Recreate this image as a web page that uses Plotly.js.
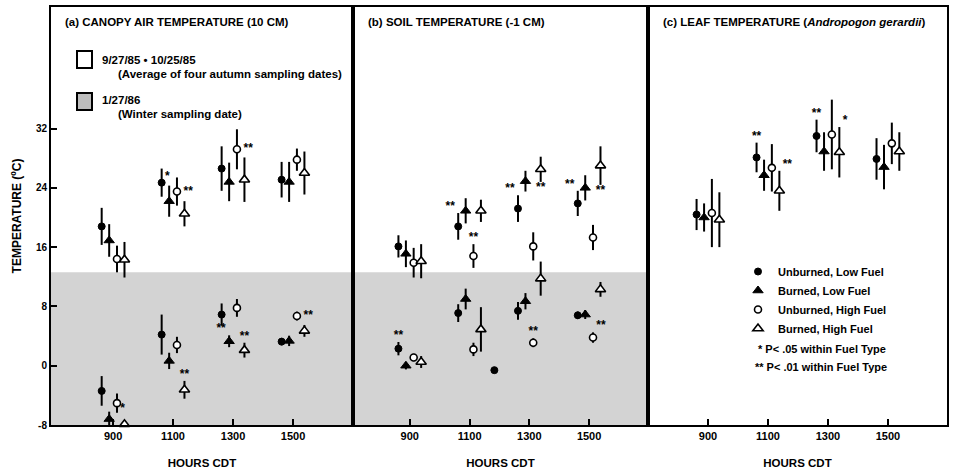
<!DOCTYPE html>
<html>
<head>
<meta charset="utf-8">
<script src="https://cdn.plot.ly/plotly-3.0.1.min.js"></script>
<style>html,body{margin:0;padding:0;background:#fff;}#chart{width:953px;height:470px;}</style>
</head>
<body>
<div id="chart"></div>
<script>
// ---------------- DATA ----------------
const hours = [900, 1100, 1300, 1500];
const hourLabels = ['900', '1100', '1300', '1500'];
const seriesNames = ['Unburned, Low Fuel', 'Burned, Low Fuel', 'Unburned, High Fuel', 'Burned, High Fuel'];
const yTickValues = [-8, 0, 8, 16, 24, 32];
const yTickLabels = ['-8', '0', '8', '16', '24', '32'];

// (a) Canopy air temperature, autumn (rows: UL, BL, UH, BH)
const airAutumn = [
  [18.8, 24.7, 26.6, 25.1],
  [16.9, 22.2, 24.8, 24.8],
  [14.4, 23.5, 29.2, 27.8],
  [14.3, 20.5, 25.1, 26.0]
];
const airAutumnErr = [
  [2.5, 1.9, 3.0, 2.4],
  [2.2, 2.1, 2.6, 2.7],
  [1.8, 1.9, 2.7, 1.5],
  [2.4, 1.7, 3.0, 2.9]
];
const airAutumnSig = [
  ['', '*|TR', '', ''],
  ['', '', '', ''],
  ['', '**|R', '**|R', ''],
  ['', '', '', '']
];
// (a) Canopy air temperature, winter
const airWinter = [
  [-3.4, 4.2, 6.9, 3.25],
  [-7.2, 0.65, 3.3, 3.35],
  [-5.05, 2.8, 7.8, 6.7],
  [-7.9, -3.25, 2.1, 4.7]
];
const airWinterErr = [
  [2.0, 2.7, 1.5, 0.5],
  [1.0, 1.1, 0.8, 0.7],
  [1.3, 1.1, 1.2, 0.6],
  [0.5, 1.2, 1.0, 0.8]
];
const airWinterSig = [
  ['', '', '', ''],
  ['', '', '**|AL', ''],
  ['*|BR', '', '', '**|R'],
  ['', '**|A', '**|A', '']
];
// (b) Soil temperature, autumn
const soilAutumn = [
  [16.1, 18.8, 21.2, 21.9],
  [15.1, 20.9, 24.9, 24.0],
  [13.9, 14.8, 16.1, 17.3],
  [14.1, 20.9, 26.5, 27.0]
];
const soilAutumnErr = [
  [1.5, 1.8, 1.8, 1.7],
  [1.8, 1.7, 1.4, 1.7],
  [2.0, 1.6, 1.9, 1.7],
  [2.3, 1.5, 1.7, 2.6]
];
const soilAutumnSig = [
  ['', '**|AL', '**|AL', '**|AL'],
  ['', '', '', ''],
  ['', '**|A', '', ''],
  ['', '', '**|B', '**|B']
];
// (b) Soil temperature, winter
const soilWinter = [
  [2.3, 7.1, 7.4, 6.8],
  [0.0, 9.0, 8.7, 6.9],
  [1.1, 2.2, 3.1, 3.8],
  [0.5, 4.9, 11.75, 10.3]
];
const soilWinterErr = [
  [0.9, 1.2, 1.2, 0.5],
  [0.5, 1.4, 1.1, 0.6],
  [0.5, 0.9, 0.6, 0.7],
  [0.8, 3.0, 2.3, 1.0]
];
const soilWinterSig = [
  ['**|A', '', '', ''],
  ['', '', '', ''],
  ['', '', '**|A', '**|AR'],
  ['', '', '', '']
];
// stray filled point printed between 1100 and 1300 in panel (b)
const soilWinterStrayHour = [1183];
const soilWinterStrayValue = [-0.6];

// (c) Leaf temperature (autumn only)
const leafAutumn = [
  [20.4, 28.1, 31.0, 27.9],
  [20.0, 25.7, 28.9, 26.8],
  [20.6, 26.7, 31.2, 30.0],
  [19.7, 23.6, 28.8, 28.9]
];
const leafAutumnErr = [
  [2.1, 2.0, 2.2, 2.8],
  [1.9, 2.1, 2.6, 3.0],
  [4.6, 3.2, 4.7, 2.8],
  [3.7, 2.7, 3.4, 2.6]
];
const leafAutumnSig = [
  ['', '**|A', '**|A', ''],
  ['', '', '', ''],
  ['', '', '', ''],
  ['', '**|AR', '*|AR', '']
];
const winterTop = 12.6;   // upper edge of shaded winter band

// ---------------- STYLE ----------------
const FONT = 'Liberation Sans, Arial, Helvetica, sans-serif';
const NB = '\u00a0';
const offsets = [-38, -13, 13, 38];
const markerStyles = [
  {symbol: 'circle', size: 7, color: '#000', line: {color: '#000', width: 1}},
  {symbol: 'triangle-up', size: 9, color: '#000', line: {color: '#000', width: 1}},
  {symbol: 'circle', size: 7, color: '#fff', line: {color: '#000', width: 1.6}},
  {symbol: 'triangle-up', size: 9, color: '#fff', line: {color: '#000', width: 1.6}}
];
// [textposition, vertical anchor, padding side]
const posMap = {
  'A': ['top center', 'up', ''], 'AL': ['top left', 'up', 'L'], 'AR': ['top right', 'up', 'R'],
  'B': ['bottom center', 'down', ''], 'R': ['middle right', 'mid', 'RR'], 'L': ['middle left', 'mid', 'LL'],
  'TR': ['top right', 'mid', 'R'], 'TL': ['top left', 'mid', 'L'], 'BR': ['bottom right', 'mid', 'R']
};

const traces = [];
function addGroup(vals, errs, sigs, xa, ya, legend) {
  for (let s = 0; s < 4; s++) {
    const xs = hours.map(h => h + offsets[s]);
    traces.push({
      type: 'scatter', mode: 'markers', x: xs, y: vals[s],
      xaxis: xa, yaxis: ya, name: seriesNames[s], legendgroup: 's' + s,
      showlegend: legend, cliponaxis: false,
      marker: markerStyles[s],
      error_y: {type: 'data', array: errs[s], visible: true, color: '#000', thickness: 2, width: 0},
      hoverinfo: 'x+y'
    });
    const tx = [], ty = [], tt = [], tp = [];
    sigs[s].forEach((code, i) => {
      if (!code) return;
      const [txt, pos] = code.split('|');
      const pm = posMap[pos];
      let t = txt;
      if (pm[2] === 'RR') t = NB + NB + txt;
      else if (pm[2] === 'R') t = NB + txt;
      else if (pm[2] === 'LL') t = txt + NB + NB;
      else if (pm[2] === 'L') t = txt + NB;
      tx.push(xs[i]);
      ty.push(pm[1] === 'up' ? vals[s][i] + errs[s][i] : pm[1] === 'down' ? vals[s][i] - errs[s][i] : vals[s][i]);
      tt.push(t); tp.push(pm[0]);
    });
    if (tx.length) {
      traces.push({
        type: 'scatter', mode: 'text', x: tx, y: ty, text: tt, textposition: tp,
        xaxis: xa, yaxis: ya, showlegend: false, hoverinfo: 'skip', cliponaxis: false,
        textfont: {family: FONT, size: 12, color: '#000', weight: 700}
      });
    }
  }
}
addGroup(airAutumn, airAutumnErr, airAutumnSig, 'x', 'y', true);
addGroup(airWinter, airWinterErr, airWinterSig, 'x', 'y', false);
addGroup(soilAutumn, soilAutumnErr, soilAutumnSig, 'x2', 'y2', false);
addGroup(soilWinter, soilWinterErr, soilWinterSig, 'x2', 'y2', false);
addGroup(leafAutumn, leafAutumnErr, leafAutumnSig, 'x3', 'y3', false);
traces.push({
  type: 'scatter', mode: 'markers', x: soilWinterStrayHour, y: soilWinterStrayValue,
  xaxis: 'x2', yaxis: 'y2', showlegend: false, marker: markerStyles[0], hoverinfo: 'x+y'
});

// ---------------- LAYOUT ----------------
const L = 51, T = 7, PW = 896, PH = 418;
const px = v => (v - L) / PW;
const py = v => (T + PH - v) / PH;
const d1 = px(353), d2 = px(648);

function xAxis(domain, range, anchor) {
  return {
    domain: domain, range: range, anchor: anchor,
    tickvals: hours, ticktext: hourLabels, ticks: 'inside', ticklen: 6, tickwidth: 2, tickcolor: '#000',
    showline: true, linewidth: 2, linecolor: '#000', mirror: true,
    showgrid: false, zeroline: false, fixedrange: true,
    tickfont: {family: FONT, size: 11, color: '#000', weight: 700},
    title: {text: 'HOURS CDT', standoff: 18, font: {family: FONT, size: 11.5, color: '#000', weight: 700}}
  };
}
function yAxis(anchor, showTicks) {
  return {
    range: [-8, 48.4], anchor: anchor, domain: [0, 1],
    tickvals: yTickValues, ticktext: yTickLabels,
    showticklabels: showTicks, ticks: showTicks ? 'inside' : '', ticklen: 6, tickwidth: 2, tickcolor: '#000',
    showline: true, linewidth: 2, linecolor: '#000', mirror: true,
    showgrid: false, zeroline: false, fixedrange: true,
    tickfont: {family: FONT, size: 10, color: '#000', weight: 700},
    title: showTicks ? {text: 'TEMPERATURE (ºC)', standoff: 12, font: {family: FONT, size: 12, color: '#000', weight: 700}} : {text: ''}
  };
}

const tfont = {family: FONT, size: 11.5, color: '#000', weight: 700};
const sfont = {family: FONT, size: 11, color: '#000', weight: 700};
const bfont = {family: FONT, size: 11.5, color: '#000', weight: 700};
function ann(text, x, y, font) {
  return {text: text, x: px(x), y: py(y), xref: 'paper', yref: 'paper', xanchor: 'left', yanchor: 'middle', showarrow: false, font: font || sfont};
}

const layout = {
  width: 953, height: 470,
  margin: {l: L, r: 953 - L - PW, t: T, b: 470 - T - PH},
  paper_bgcolor: '#fff', plot_bgcolor: 'rgba(0,0,0,0)',
  font: {family: FONT, color: '#000'},
  xaxis: xAxis([0, d1], [693, 1700], 'y'),
  xaxis2: xAxis([d1, d2], [710, 1697], 'y2'),
  xaxis3: xAxis([d2, 1], [700, 1697], 'y3'),
  yaxis: yAxis('x', true),
  yaxis2: yAxis('x2', false),
  yaxis3: yAxis('x3', false),
  showlegend: true,
  legend: {
    x: px(738), y: py(257), xanchor: 'left', yanchor: 'top', bgcolor: 'rgba(0,0,0,0)',
    font: sfont, tracegroupgap: 0, itemsizing: 'trace', itemwidth: 30
  },
  shapes: [
    {type: 'rect', xref: 'x domain', yref: 'y', x0: 0, x1: 1, y0: -8, y1: winterTop, fillcolor: '#d3d3d3', line: {width: 0}, layer: 'below'},
    {type: 'rect', xref: 'x2 domain', yref: 'y2', x0: 0, x1: 1, y0: -8, y1: winterTop, fillcolor: '#d3d3d3', line: {width: 0}, layer: 'below'},
    {type: 'rect', xref: 'paper', yref: 'paper', x0: px(77), x1: px(92), y0: py(68), y1: py(51), fillcolor: '#fff', line: {color: '#000', width: 2}},
    {type: 'rect', xref: 'paper', yref: 'paper', x0: px(77), x1: px(92), y0: py(110), y1: py(93), fillcolor: '#bdbdbd', line: {color: '#000', width: 2}}
  ],
  annotations: [
    ann('(a) CANOPY AIR TEMPERATURE (10 CM)', 63, 22, tfont),
    ann('(b) SOIL TEMPERATURE (-1 CM)', 366, 22, tfont),
    ann('(c) LEAF TEMPERATURE (<i>Andropogon gerardii</i>)', 661, 22, tfont),
    ann('9/27/85 • 10/25/85', 100, 60, bfont),
    ann('(Average of four autumn sampling dates)', 116, 74, bfont),
    ann('1/27/86', 100, 100, bfont),
    ann('(Winter sampling date)', 116, 114, bfont),
    ann('* P< .05 within Fuel Type', 756, 349),
    ann('** P< .01 within Fuel Type', 753, 367)
  ]
};

Plotly.newPlot('chart', traces, layout, {displayModeBar: false, staticPlot: true});
</script>
</body>
</html>
